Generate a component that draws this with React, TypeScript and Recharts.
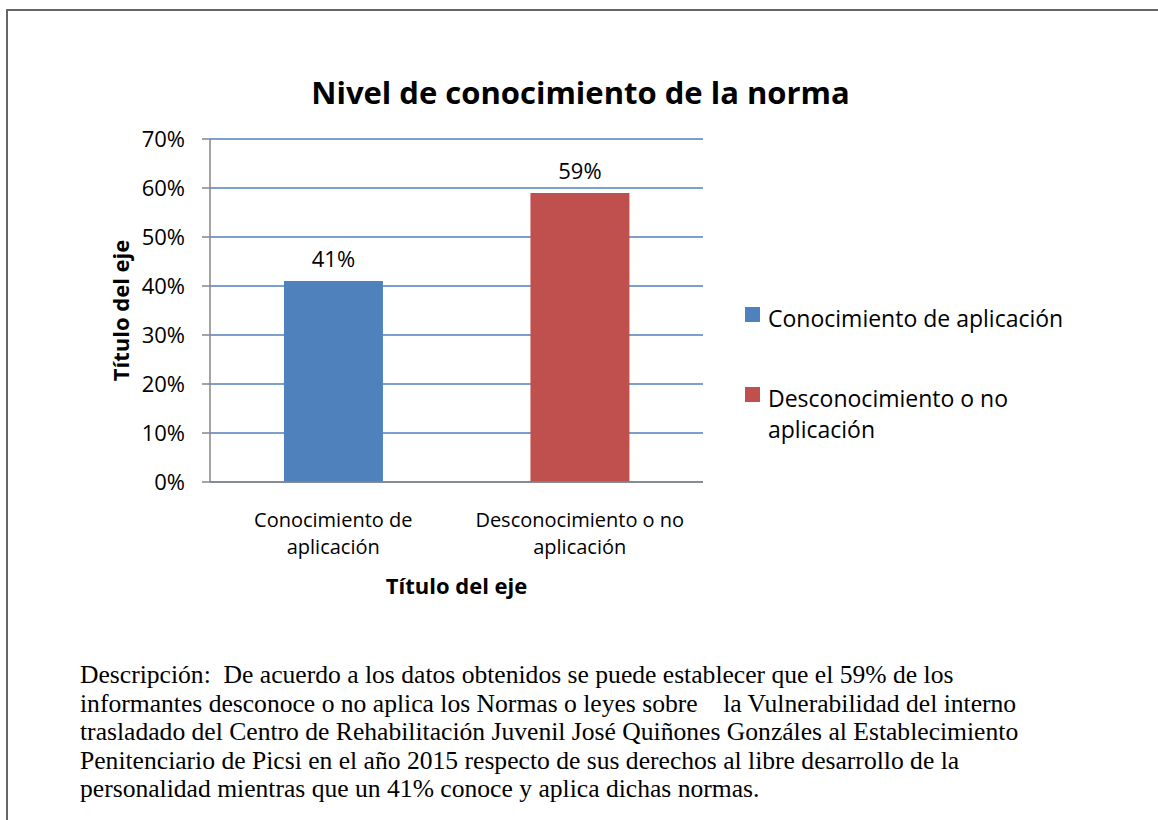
import React from "react";
import { BarChart, Bar, XAxis, YAxis, CartesianGrid, LabelList, Legend, Cell, Label } from "recharts";

const categories = ["Conocimiento de aplicación", "Desconocimiento o no aplicación"];
const values = [41, 59];
const colors = ["#4F81BD", "#C0504D"];
const yTicks = [0, 10, 20, 30, 40, 50, 60, 70];
const chartTitle = "Nivel de conocimiento de la norma";
const xAxisTitle = "Título del eje";
const yAxisTitle = "Título del eje";
const descriptionLines = [
  "Descripción:  De acuerdo a los datos obtenidos se puede establecer que el 59% de los",
  "informantes desconoce o no aplica los Normas o leyes sobre    la Vulnerabilidad del interno",
  "trasladado del Centro de Rehabilitación Juvenil José Quiñones Gonzáles al Establecimiento",
  "Penitenciario de Picsi en el año 2015 respecto de sus derechos al libre desarrollo de la",
  "personalidad mientras que un 41% conoce y aplica dichas normas.",
];

const data = categories.map((name, i) => ({ name, value: values[i] }));

const SANS = "'Open Sans', sans-serif";
const AXIS_GRAY = "#868686";

const XTick = (props: any) => {
  const { x, y, payload } = props;
  const s = String(payload.value);
  const idx = s.lastIndexOf(" ");
  const lines = [s.slice(0, idx), s.slice(idx + 1)];
  return (
    <text x={x} y={y + 37} textAnchor="middle" fontFamily={SANS} fontSize={20} fill="#000">
      {lines.map((l, i) => (
        <tspan key={i} x={x} dy={i === 0 ? 0 : 27}>
          {l}
        </tspan>
      ))}
    </text>
  );
};

const YTitle = (props: any) => {
  const { viewBox } = props;
  const cx = viewBox.x + 120;
  const cy = viewBox.y + viewBox.height / 2;
  return (
    <text
      x={cx}
      y={cy}
      transform={`rotate(-90, ${cx}, ${cy})`}
      textAnchor="middle"
      dominantBaseline="central"
      fontFamily={SANS}
      fontWeight="bold"
      fontSize={22}
      fill="#000"
    >
      {yAxisTitle}
    </text>
  );
};

const LegendContent = () => (
  <div style={{ fontFamily: SANS, fontSize: 23, lineHeight: "31px", color: "#000" }}>
    {categories.map((c, i) => (
      <div key={c} style={{ display: "flex", alignItems: "flex-start", marginTop: i === 0 ? 0 : 49 }}>
        <div style={{ width: 15, height: 15, background: colors[i], marginTop: 4, marginRight: 8, flex: "none" }} />
        <div style={{ width: 300 }}>{c}</div>
      </div>
    ))}
  </div>
);

export default function App() {
  return (
    <div
      style={{
        position: "absolute",
        left: 0,
        top: 0,
        width: 1158,
        height: 820,
        background: "#fff",
        overflow: "hidden",
      }}
    >
      <div
        style={{
          position: "absolute",
          left: 6,
          top: 9,
          width: 1200,
          height: 900,
          borderTop: "2px solid #666",
          borderLeft: "2px solid #666",
        }}
      />
      <div
        style={{
          position: "absolute",
          left: 0,
          top: 71,
          width: 1161,
          textAlign: "center",
          fontFamily: SANS,
          fontWeight: "bold",
          fontSize: 31,
          lineHeight: "42px",
          color: "#000",
        }}
      >
        {chartTitle}
      </div>
      <div style={{ position: "absolute", left: 0, top: 0 }}>
        <BarChart
          width={1158}
          height={620}
          data={data}
          margin={{ top: 139, right: 455, bottom: 18, left: 0 }}
          barCategoryGap="30%"
        >
          <CartesianGrid vertical={false} stroke="#4F81BD" strokeWidth={1.5} />
          <XAxis
            dataKey="name"
            tickLine={false}
            axisLine={{ stroke: AXIS_GRAY, strokeWidth: 1.5 }}
            tick={<XTick />}
            height={120}
            interval={0}
          >
            <Label
              value={xAxisTitle}
              position="insideBottom"
              offset={8}
              style={{ fontFamily: SANS, fontWeight: "bold", fontSize: 22, fill: "#000" }}
            />
          </XAxis>
          <YAxis
            width={210}
            domain={[0, 70]}
            ticks={yTicks}
            interval={0}
            tickFormatter={(v: number) => `${v}%`}
            tickSize={8}
            tickMargin={17}
            axisLine={{ stroke: AXIS_GRAY, strokeWidth: 1.5 }}
            tickLine={{ stroke: AXIS_GRAY, strokeWidth: 1.5 }}
            tick={{ fontFamily: SANS, fontSize: 22, fill: "#000" }}
          >
            <Label content={<YTitle />} />
          </YAxis>
          <Legend
            layout="vertical"
            align="center"
            verticalAlign="middle"
            wrapperStyle={{ left: 745, top: 303, width: 380 }}
            content={<LegendContent />}
          />
          <Bar dataKey="value" isAnimationActive={false}>
            {data.map((d, i) => (
              <Cell key={d.name} fill={colors[i]} />
            ))}
            <LabelList
              dataKey="value"
              position="top"
              offset={14}
              formatter={(v: any) => `${v}%`}
              style={{ fontFamily: SANS, fontSize: 22, fill: "#000" }}
            />
          </Bar>
        </BarChart>
      </div>
      <div
        style={{
          position: "absolute",
          left: 80,
          top: 661,
          fontFamily: "'Liberation Serif', 'Times New Roman', serif",
          fontSize: 25.6,
          lineHeight: "28.6px",
          color: "#000",
          whiteSpace: "pre",
        }}
      >
        {descriptionLines.map((l, i) => (
          <div key={i}>{l}</div>
        ))}
      </div>
    </div>
  );
}
